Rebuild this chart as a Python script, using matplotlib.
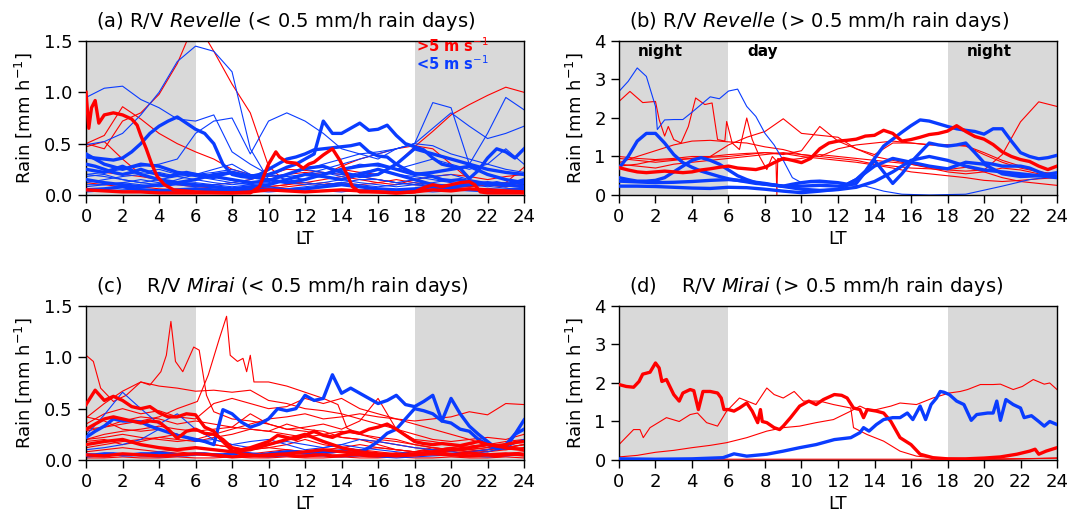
import matplotlib
matplotlib.use("Agg")
import matplotlib.pyplot as plt

# ---------------- common x grids (local time, hours) ----------------
HOURS = list(range(25))
HALF = [i * 0.5 for i in range(49)]

RED = "#ff0000"
BLUE = "#0a3cff"
SHADE = "#d9d9d9"

# ============ (a) R/V Revelle, < 0.5 mm/h rain days ============
a_red_thick1_x = [0, 0.15, 0.3, 0.5, 0.7, 1.0, 1.5, 2.0, 2.5, 2.8, 3.0, 3.3, 3.6, 3.9, 4.3, 4.8, 6, 8, 9, 9.5,
                  10, 10.4, 10.6, 11, 11.5, 11.9, 12.2, 12.5, 13, 13.5, 13.9, 14.3, 14.6, 15, 16, 17, 18, 18.5, 19, 19.5,
                  20, 20.5, 21, 21.3, 21.6, 22, 23, 24]
a_red_thick1_y = [1.0, 0.65, 0.85, 0.92, 0.7, 0.78, 0.8, 0.78, 0.74, 0.68, 0.58, 0.45, 0.3, 0.18, 0.1, 0.05, 0.03, 0.02, 0.02, 0.08,
                  0.3, 0.42, 0.37, 0.32, 0.31, 0.26, 0.3, 0.32, 0.39, 0.45, 0.34, 0.2, 0.08, 0.03, 0.03, 0.02, 0.03, 0.07, 0.1, 0.08,
                  0.1, 0.12, 0.13, 0.1, 0.03, 0.02, 0.02, 0.02]
a_red_thick2 = [0.05, 0.04, 0.03, 0.03, 0.02, 0.02, 0.02, 0.02, 0.02, 0.03, 0.05, 0.04, 0.03, 0.04, 0.05, 0.04, 0.03, 0.02,
                0.03, 0.05, 0.04, 0.06, 0.05, 0.04, 0.03]
a_red1 = [0.5, 0.45, 0.72, 0.8, 0.98, 1.28, 1.7, 1.4, 1.08, 0.8, 0.28, 0.12, 0.12, 0.1, 0.12, 0.1, 0.12, 0.15, 0.12, 0.1,
          0.1, 0.08, 0.1, 0.12, 0.1]
a_red2 = [0.5, 0.58, 0.86, 0.74, 0.6, 0.5, 0.42, 0.35, 0.25, 0.2, 0.18, 0.2, 0.22, 0.2, 0.25, 0.22, 0.2, 0.3, 0.47, 0.62,
          0.78, 0.88, 0.97, 1.05, 1.0]
a_red3 = [0.47, 0.52, 0.35, 0.2, 0.15, 0.1, 0.08, 0.07, 0.06, 0.05, 0.06, 0.08, 0.1, 0.12, 0.1, 0.08, 0.06, 0.05, 0.05, 0.06,
          0.07, 0.08, 0.1, 0.12, 0.27]
a_red4 = [0.25, 0.22, 0.2, 0.18, 0.15, 0.12, 0.1, 0.1, 0.12, 0.15, 0.2, 0.25, 0.24, 0.22, 0.2, 0.18, 0.15, 0.12, 0.1, 0.08,
          0.1, 0.12, 0.1, 0.08, 0.1]
a_red5 = [0.12, 0.1, 0.08, 0.08, 0.06, 0.05, 0.05, 0.04, 0.05, 0.06, 0.08, 0.1, 0.12, 0.15, 0.18, 0.15, 0.12, 0.1, 0.15, 0.18,
          0.2, 0.18, 0.15, 0.18, 0.2]
a_red6 = [0.05, 0.05, 0.04, 0.04, 0.03, 0.03, 0.03, 0.04, 0.05, 0.06, 0.08, 0.1, 0.15, 0.2, 0.28, 0.35, 0.4, 0.45, 0.48, 0.45,
          0.3, 0.15, 0.1, 0.08, 0.1]

a_blue_thick1 = [0.37, 0.36, 0.35, 0.34, 0.36, 0.42, 0.5, 0.6, 0.67, 0.72,
                 0.76, 0.7, 0.64, 0.6, 0.5, 0.3, 0.2, 0.18, 0.17, 0.18,
                 0.2, 0.23, 0.27, 0.3, 0.35, 0.4, 0.72, 0.6, 0.6, 0.65,
                 0.7, 0.63, 0.64, 0.68, 0.58, 0.5, 0.47, 0.44, 0.36, 0.3,
                 0.28, 0.26, 0.16, 0.24, 0.36, 0.45, 0.42, 0.36, 0.45]
a_blue_thick2 = [0.3, 0.28, 0.25, 0.22, 0.2, 0.22, 0.25, 0.22, 0.2, 0.18,
                 0.2, 0.22, 0.2, 0.18, 0.17, 0.2, 0.22, 0.2, 0.18, 0.2,
                 0.25, 0.3, 0.35, 0.37, 0.4, 0.44, 0.45, 0.46, 0.47, 0.48,
                 0.5, 0.42, 0.38, 0.37, 0.3, 0.25, 0.21, 0.2, 0.18, 0.15,
                 0.14, 0.15, 0.13, 0.12, 0.1, 0.12, 0.1, 0.12, 0.15]
a_blue_thick3 = [0.25, 0.22, 0.28, 0.2, 0.15, 0.12, 0.15, 0.2, 0.22, 0.18, 0.15, 0.12, 0.15, 0.2, 0.25, 0.28, 0.3, 0.25,
                 0.2, 0.22, 0.25, 0.28, 0.2, 0.15, 0.12]
a_blue_thick4 = [0.15, 0.12, 0.1, 0.08, 0.1, 0.12, 0.1, 0.08, 0.06, 0.08, 0.1, 0.15, 0.2, 0.18, 0.15, 0.2, 0.25, 0.2,
                 0.15, 0.1, 0.08, 0.1, 0.12, 0.1, 0.08]
a_blue_thick5 = [0.05, 0.06, 0.08, 0.05, 0.04, 0.05, 0.06, 0.05, 0.04, 0.05, 0.06, 0.05, 0.06, 0.08, 0.1, 0.08, 0.06, 0.05,
                 0.06, 0.08, 0.06, 0.05, 0.04, 0.05, 0.06]
a_blue_thick6 = [0.4, 0.3, 0.25, 0.3, 0.28, 0.22, 0.2, 0.18, 0.15, 0.12, 0.14, 0.2, 0.26, 0.28, 0.22, 0.18, 0.2, 0.3,
                 0.45, 0.4, 0.35, 0.3, 0.25, 0.22, 0.2]
a_blue1 = [0.95, 1.04, 1.06, 0.93, 0.85, 0.74, 0.72, 0.78, 0.42, 0.3, 0.2, 0.15, 0.12, 0.1, 0.12, 0.15, 0.15, 0.12, 0.1,
           0.08, 0.1, 0.12, 0.1, 0.08, 0.1]
a_blue2 = [0.49, 0.52, 0.6, 0.78, 1.0, 1.3, 1.45, 1.4, 1.2, 0.45, 0.15, 0.12, 0.1, 0.12, 0.15, 0.12, 0.1, 0.08, 0.1, 0.12,
           0.15, 0.12, 0.1, 0.12, 0.1]
a_blue3 = [0.2, 0.22, 0.25, 0.28, 0.3, 0.35, 0.6, 0.72, 0.75, 0.4, 0.72, 0.8, 0.72, 0.6, 0.45, 0.4, 0.35, 0.45, 0.5, 0.48,
           0.4, 0.35, 0.3, 0.25, 0.22]
a_blue4 = [0.1, 0.1, 0.12, 0.1, 0.08, 0.1, 0.12, 0.1, 0.08, 0.1, 0.12, 0.15, 0.2, 0.25, 0.3, 0.35, 0.4, 0.45, 0.5, 0.9,
           0.85, 0.3, 0.6, 0.95, 0.83]
a_blue5 = [0.2, 0.18, 0.15, 0.12, 0.15, 0.18, 0.2, 0.22, 0.25, 0.2, 0.18, 0.2, 0.25, 0.3, 0.35, 0.4, 0.42, 0.45, 0.5, 0.65,
           0.8, 0.67, 0.55, 0.6, 0.67]
a_blue6 = [0.3, 0.25, 0.2, 0.22, 0.25, 0.2, 0.18, 0.15, 0.12, 0.15, 0.2, 0.18, 0.15, 0.2, 0.25, 0.3, 0.28, 0.25, 0.3, 0.35,
           0.3, 0.25, 0.3, 0.45, 0.3]
a_blue7 = [0.12, 0.15, 0.18, 0.2, 0.22, 0.18, 0.15, 0.12, 0.1, 0.12, 0.15, 0.18, 0.2, 0.22, 0.2, 0.18, 0.15, 0.12, 0.15,
           0.18, 0.2, 0.15, 0.12, 0.1, 0.12]
a_blue8 = [0.08, 0.1, 0.12, 0.15, 0.12, 0.1, 0.08, 0.1, 0.12, 0.1, 0.08, 0.06, 0.08, 0.1, 0.12, 0.1, 0.08, 0.1, 0.12, 0.08,
           0.06, 0.05, 0.06, 0.08, 0.1]
a_blue9 = [0.03, 0.04, 0.05, 0.06, 0.05, 0.04, 0.03, 0.04, 0.05, 0.04, 0.03, 0.04, 0.05, 0.04, 0.03, 0.05, 0.06, 0.05, 0.04,
           0.03, 0.04, 0.05, 0.04, 0.03, 0.04]
a_blue10 = [0.18, 0.2, 0.15, 0.12, 0.1, 0.15, 0.2, 0.25, 0.3, 0.2, 0.15, 0.2, 0.25, 0.22, 0.18, 0.22, 0.25, 0.2, 0.18,
            0.15, 0.12, 0.1, 0.08, 0.1, 0.12]

# ============ (b) R/V Revelle, > 0.5 mm/h rain days ============
b_red_thick = [0.71, 0.65, 0.6, 0.58, 0.6, 0.62, 0.6, 0.58, 0.6, 0.65,
               0.68, 0.72, 0.75, 0.7, 0.68, 0.66, 0.72, 0.84, 0.95, 0.9,
               0.84, 0.95, 1.2, 1.35, 1.4, 1.42, 1.45, 1.53, 1.55, 1.68,
               1.6, 1.4, 1.44, 1.5, 1.57, 1.6, 1.66, 1.8, 1.65, 1.52,
               1.45, 1.31, 1.12, 1.0, 0.92, 0.87, 0.75, 0.66, 0.75]
b_blue_thick1 = [0.7, 1.0, 1.4, 1.6, 1.6, 1.35, 1.05, 0.84, 0.72, 0.62,
                 0.55, 0.48, 0.42, 0.38, 0.34, 0.3, 0.28, 0.26, 0.23, 0.28,
                 0.32, 0.35, 0.36, 0.34, 0.32, 0.28, 0.4, 0.62, 0.95, 1.27,
                 1.45, 1.63, 1.8, 1.95, 1.92, 1.85, 1.78, 1.72, 1.68, 1.65,
                 1.58, 1.72, 1.72, 1.4, 1.1, 1.0, 0.94, 0.97, 1.03]
b_blue_thick2 = [0.45, 0.4, 0.36, 0.36, 0.38, 0.45, 0.6, 0.75, 0.9, 0.97,
                 0.9, 0.8, 0.65, 0.5, 0.4, 0.32, 0.28, 0.25, 0.23, 0.22,
                 0.23, 0.24, 0.25, 0.24, 0.23, 0.25, 0.3, 0.6, 0.9, 0.6,
                 0.3, 0.55, 0.85, 1.1, 1.35, 1.3, 1.27, 1.3, 1.35, 1.1,
                 0.84, 0.8, 0.75, 0.75, 0.75, 0.7, 0.6, 0.52, 0.49]
b_blue_thick3 = [0.23, 0.23, 0.22, 0.2, 0.18, 0.17, 0.2, 0.19, 0.15, 0.1, 0.06, 0.1, 0.15, 0.4, 0.75, 0.95, 0.85, 0.75,
                 0.68, 0.85, 0.8, 0.55, 0.48, 0.5, 0.58]
b_blue_thick4 = [0.36, 0.34, 0.32, 0.33, 0.35, 0.38, 0.4, 0.36, 0.3, 0.22, 0.15, 0.12, 0.14, 0.2, 0.35, 0.6, 0.9, 1.0,
                 0.9, 0.75, 0.65, 0.6, 0.55, 0.5, 0.45]
b_blue1_x = [0, 0.5, 1, 1.5, 2, 2.1, 2.5, 3, 3.5, 4, 4.5, 5, 5.5, 6, 6.5, 7, 7.5, 8, 8.5, 9, 9.5, 10, 11, 12, 13, 13.5,
             14.5, 15.5, 17, 19, 21, 22.5, 24]
b_blue1_y = [2.69, 2.95, 3.3, 3.08, 2.3, 1.7, 1.95, 1.96, 1.96, 2.15, 2.35, 2.55, 2.5, 2.7, 2.75, 2.3, 2.04, 1.6, 1.3,
             0.9, 0.45, 0.32, 0.32, 0.3, 0.25, 0.23, 0.1, 0.02, 0.0, 0.02, 0.23, 0.4, 0.49]
b_red1_x = [0, 0.6, 1.3, 2.0, 2.2, 2.5, 2.7, 3.0, 3.4, 3.8, 4.2, 4.7, 5.1, 5.4, 5.8, 5.9, 6.2, 6.6, 7.0, 7.3,
            7.7, 8.1, 8.4, 8.6, 8.65, 8.7, 9.0, 10, 11, 12, 13, 14, 15, 16, 17, 18, 19, 20, 21, 22, 23, 24]
b_red1_y = [2.43, 2.69, 2.4, 2.43, 1.96, 1.53, 1.78, 1.44, 1.35, 1.78, 2.52, 2.35, 2.39, 1.44, 1.4, 1.91, 1.35, 1.18,
            2.0, 1.44, 1.0, 0.66, 1.0, 0.9, 0.0, 0.95, 0.9, 0.95, 1.05, 1.0, 0.95, 0.9, 0.85, 0.8, 0.7, 0.6, 0.55,
            0.6, 0.7, 0.65, 0.55, 0.5]
b_red2 = [1.0, 0.95, 0.92, 0.95, 1.0, 1.0, 1.3, 1.5, 1.65, 1.98, 1.6, 1.55, 1.5, 1.2, 1.0, 0.9, 0.8, 0.72, 0.66, 0.72,
          0.6, 0.45, 0.35, 0.3, 0.25]
b_red3 = [0.8, 0.75, 0.7, 0.8, 0.85, 0.9, 0.95, 1.0, 1.05, 1.1, 1.05, 1.0, 0.95, 0.9, 0.8, 0.75, 0.7, 0.68, 0.65, 0.62,
          0.65, 1.05, 1.9, 2.42, 2.3]
b_red4 = [0.84, 1.0, 1.15, 1.3, 1.4, 1.42, 1.38, 1.35, 1.25, 1.18, 1.05, 1.0, 1.2, 1.3, 1.35, 1.4, 1.35, 1.3, 1.3, 1.28,
          1.1, 0.9, 0.75, 0.6, 0.5]
b_red5 = [0.75, 0.8, 0.9, 0.92, 0.95, 0.98, 1.0, 1.05, 1.1, 1.08, 1.0, 0.95, 0.9, 0.85, 0.78, 0.7, 0.6, 0.55, 0.5, 0.45,
          0.38, 0.35, 0.38, 0.42, 0.45]
b_red6 = [0.95, 0.9, 0.85, 0.9, 0.95, 1.0, 1.05, 1.08, 1.1, 1.05, 1.15, 1.78, 1.4, 1.2, 1.05, 1.35, 1.35, 1.31, 1.3,
          1.27, 1.05, 0.85, 0.7, 0.6, 0.55]

# ============ (c) R/V Mirai, < 0.5 mm/h rain days ============
c_blue_thick1 = [0.22, 0.28, 0.33, 0.4, 0.38, 0.38, 0.37, 0.33, 0.3, 0.27,
                 0.24, 0.22, 0.2, 0.18, 0.15, 0.49, 0.45, 0.37, 0.32, 0.35,
                 0.4, 0.5, 0.48, 0.5, 0.63, 0.58, 0.6, 0.83, 0.65, 0.7,
                 0.65, 0.6, 0.55, 0.58, 0.63, 0.54, 0.52, 0.57, 0.63, 0.38,
                 0.6, 0.45, 0.33, 0.25, 0.18, 0.11, 0.12, 0.25, 0.39]
c_blue_thick2 = [0.05, 0.05, 0.06, 0.06, 0.05, 0.05, 0.06, 0.06, 0.07, 0.06,
                 0.05, 0.05, 0.06, 0.06, 0.05, 0.05, 0.06, 0.07, 0.06, 0.05,
                 0.06, 0.07, 0.08, 0.08, 0.07, 0.07, 0.08, 0.08, 0.09, 0.1,
                 0.08, 0.12, 0.18, 0.26, 0.3, 0.4, 0.5, 0.48, 0.45, 0.38,
                 0.36, 0.3, 0.28, 0.2, 0.15, 0.12, 0.15, 0.25, 0.3]
c_blue1 = [0.24, 0.44, 0.66, 0.5, 0.35, 0.45, 0.3, 0.2, 0.15, 0.12, 0.15, 0.18, 0.15, 0.12, 0.15, 0.12, 0.1, 0.08, 0.06,
           0.05, 0.06, 0.08, 0.1, 0.15, 0.2]
c_blue2 = [0.1, 0.12, 0.15, 0.2, 0.3, 0.25, 0.18, 0.2, 0.15, 0.18, 0.2, 0.15, 0.1, 0.12, 0.15, 0.2, 0.18, 0.15, 0.12, 0.1,
           0.08, 0.06, 0.08, 0.12, 0.2]
c_blue3 = [0.03, 0.04, 0.05, 0.04, 0.03, 0.04, 0.05, 0.06, 0.05, 0.04, 0.03, 0.04, 0.05, 0.04, 0.03, 0.04, 0.03, 0.02,
           0.03, 0.04, 0.05, 0.04, 0.03, 0.04, 0.05]
c_red_thick1 = [0.54, 0.68, 0.58, 0.62, 0.58, 0.52, 0.5, 0.52, 0.46, 0.42,
                0.42, 0.45, 0.44, 0.32, 0.28, 0.18, 0.09, 0.06, 0.05, 0.04,
                0.04, 0.05, 0.05, 0.04, 0.04, 0.05, 0.05, 0.04, 0.04, 0.05,
                0.05, 0.04, 0.04, 0.05, 0.06, 0.05, 0.05, 0.06, 0.07, 0.06,
                0.05, 0.06, 0.07, 0.06, 0.05, 0.04, 0.05, 0.06, 0.05]
c_red_thick2 = [0.3, 0.35, 0.4, 0.42, 0.4, 0.38, 0.36, 0.38, 0.37, 0.3,
                0.21, 0.28, 0.3, 0.26, 0.25, 0.2, 0.12, 0.1, 0.12, 0.15,
                0.18, 0.24, 0.22, 0.2, 0.24, 0.28, 0.24, 0.22, 0.26, 0.28,
                0.26, 0.3, 0.32, 0.35, 0.3, 0.24, 0.18, 0.16, 0.15, 0.16,
                0.15, 0.14, 0.16, 0.18, 0.15, 0.14, 0.15, 0.17, 0.18]
c_red_thick3 = [0.15, 0.18, 0.2, 0.15, 0.12, 0.1, 0.12, 0.1, 0.08, 0.1, 0.15, 0.2, 0.25, 0.18, 0.12, 0.08, 0.06, 0.05,
                0.06, 0.08, 0.1, 0.12, 0.15, 0.12, 0.1]
c_red_thick4 = [0.05, 0.04, 0.06, 0.05, 0.04, 0.05, 0.06, 0.05, 0.03, 0.04, 0.05, 0.06, 0.08, 0.1, 0.08, 0.06, 0.05, 0.04,
                0.05, 0.06, 0.05, 0.04, 0.05, 0.06, 0.05]
c_red1_x = [0, 0.4, 0.8, 1.5, 2.2, 3.0, 3.5, 4.1, 4.4, 4.65, 4.9, 5.3, 5.9, 6.2, 6.6, 7.0, 8, 9, 10, 11,
            12, 13, 14, 15, 16, 17, 18, 19, 20, 21, 22, 23, 24]
c_red1_y = [1.02, 0.96, 0.7, 0.57, 0.63, 0.76, 0.73, 0.86, 1.02, 1.35, 0.96, 0.86, 1.1, 1.07, 0.63, 0.47, 0.4, 0.38,
            0.35, 0.3, 0.28, 0.25, 0.22, 0.2, 0.18, 0.15, 0.12, 0.1, 0.12, 0.1, 0.08, 0.1, 0.12]
c_red2_x = [0, 1, 2, 3, 4, 5, 6.1, 6.7, 7.3, 7.7, 7.9, 8.3, 8.6, 8.8, 9.0, 9.2, 10, 11, 12, 13,
            13.8, 14.3, 15, 16, 17, 18, 19, 20, 21, 22, 23, 24]
c_red2_y = [0.3, 0.32, 0.35, 0.38, 0.42, 0.5, 0.57, 0.83, 1.18, 1.4, 1.02, 0.96, 0.99, 0.86, 1.02, 0.76, 0.76, 0.72,
            0.66, 0.6, 0.54, 0.31, 0.25, 0.2, 0.18, 0.15, 0.12, 0.1, 0.08, 0.1, 0.12, 0.15]
c_red3 = [0.41, 0.55, 0.67, 0.76, 0.72, 0.7, 0.67, 0.68, 0.66, 0.68, 0.58, 0.55, 0.5, 0.48, 0.45, 0.4, 0.35, 0.3, 0.25,
          0.2, 0.18, 0.2, 0.22, 0.2, 0.25]
c_red4 = [0.2, 0.22, 0.25, 0.22, 0.2, 0.18, 0.2, 0.25, 0.3, 0.35, 0.4, 0.42, 0.45, 0.4, 0.42, 0.45, 0.42, 0.4, 0.38, 0.4,
          0.42, 0.47, 0.44, 0.55, 0.54]
c_red5 = [0.35, 0.45, 0.5, 0.45, 0.48, 0.42, 0.4, 0.55, 0.6, 0.55, 0.5, 0.52, 0.6, 0.55, 0.6, 0.5, 0.45, 0.4, 0.35, 0.3,
          0.25, 0.2, 0.15, 0.12, 0.15]
c_red6 = [0.28, 0.32, 0.38, 0.42, 0.4, 0.35, 0.38, 0.35, 0.32, 0.45, 0.35, 0.3, 0.32, 0.35, 0.3, 0.38, 0.6, 0.3, 0.2,
          0.18, 0.15, 0.12, 0.1, 0.15, 0.2]
c_red7 = [0.2, 0.25, 0.28, 0.3, 0.33, 0.3, 0.28, 0.3, 0.32, 0.3, 0.28, 0.25, 0.22, 0.25, 0.28, 0.25, 0.22, 0.2, 0.15,
          0.12, 0.1, 0.12, 0.15, 0.18, 0.2]
c_red8 = [0.12, 0.15, 0.18, 0.2, 0.22, 0.25, 0.2, 0.15, 0.12, 0.1, 0.12, 0.15, 0.2, 0.15, 0.12, 0.1, 0.08, 0.06, 0.08,
          0.1, 0.12, 0.15, 0.12, 0.1, 0.12]
c_red9 = [0.08, 0.1, 0.12, 0.1, 0.08, 0.1, 0.12, 0.1, 0.08, 0.06, 0.08, 0.1, 0.08, 0.06, 0.08, 0.1, 0.12, 0.1, 0.08,
          0.06, 0.08, 0.1, 0.12, 0.14, 0.1]
c_red10 = [0.05, 0.06, 0.05, 0.04, 0.06, 0.08, 0.06, 0.04, 0.03, 0.04, 0.05, 0.04, 0.03, 0.04, 0.05, 0.04, 0.03, 0.04,
           0.05, 0.06, 0.05, 0.04, 0.05, 0.06, 0.08]
c_red11 = [0.02, 0.02, 0.03, 0.02, 0.02, 0.03, 0.02, 0.02, 0.03, 0.02, 0.02, 0.03, 0.02, 0.02, 0.03, 0.02, 0.02, 0.03,
           0.02, 0.02, 0.03, 0.02, 0.02, 0.03, 0.02]
c_red12 = [0.18, 0.2, 0.15, 0.18, 0.22, 0.2, 0.18, 0.22, 0.25, 0.3, 0.28, 0.35, 0.3, 0.28, 0.22, 0.2, 0.15, 0.1, 0.08,
           0.12, 0.1, 0.08, 0.1, 0.12, 0.1]
c_red13 = [0.42, 0.38, 0.3, 0.28, 0.3, 0.25, 0.2, 0.15, 0.12, 0.1, 0.12, 0.1, 0.08, 0.1, 0.12, 0.15, 0.12, 0.1, 0.08,
           0.1, 0.12, 0.1, 0.08, 0.12, 0.15]

# ============ (d) R/V Mirai, > 0.5 mm/h rain days ============
d_red_thick_x = [0, 0.4, 0.8, 1.1, 1.3, 1.7, 2.0, 2.2, 2.35, 2.6, 3.0, 3.3, 3.5, 3.9, 4.1, 4.35, 4.6, 5.0, 5.4, 5.6,
                 5.75, 6.0, 6.3, 6.6, 7.0, 7.3, 7.6, 7.75, 7.85, 8.1, 8.5, 8.8, 9.0, 9.4, 9.9, 10.4, 10.8, 11.2, 11.8,
                 12.2, 12.5, 12.85, 13.2, 13.4, 13.6, 14.1, 14.5, 14.9, 15.4, 16.0, 16.5, 17.2, 18, 19, 20, 20.9, 21.8,
                 22.5, 22.8, 23.0, 23.4, 24]
d_red_thick_y = [1.96, 1.91, 1.89, 2.04, 2.23, 2.28, 2.52, 2.39, 2.04, 2.09, 1.7, 1.53, 1.74, 1.83, 1.8, 1.31, 1.78,
                 1.78, 1.74, 1.61, 1.31, 1.31, 1.27, 1.35, 1.48, 1.27, 0.97, 1.31, 1.0, 0.97, 0.84, 0.79, 0.88, 1.1,
                 1.4, 1.53, 1.44, 1.57, 1.7, 1.68, 1.61, 1.35, 1.31, 1.1, 1.31, 1.27, 1.22, 1.0, 0.58, 0.4, 0.15,
                 0.06, 0.03, 0.03, 0.05, 0.08, 0.15, 0.23, 0.28, 0.15, 0.23, 0.32]
d_blue_thick_x = [0, 2, 4, 5.7, 6.3, 7.0, 8.1, 9.0, 9.9, 10.8, 11.8, 12.7, 13.2, 13.4, 13.7, 14.1, 14.5, 15.0, 15.4,
                  15.8, 16.1, 16.5, 16.8, 17.1, 17.4, 17.6, 17.8, 18.1, 18.5, 18.9, 19.3, 19.6, 20.2, 20.5, 20.7,
                  20.9, 21.2, 21.6, 22.0, 22.2, 22.6, 23.0, 23.3, 23.6, 24]
d_blue_thick_y = [0.03, 0.02, 0.03, 0.06, 0.16, 0.1, 0.15, 0.23, 0.32, 0.4, 0.53, 0.58, 0.71, 0.84, 0.75, 0.92, 1.05,
                  1.1, 1.1, 1.22, 1.05, 1.4, 1.05, 1.44, 1.61, 1.78, 1.76, 1.7, 1.53, 1.44, 1.03, 1.18, 1.22, 1.22,
                  1.53, 1.03, 1.57, 1.44, 1.35, 1.1, 1.15, 1.0, 0.88, 1.0, 0.92]
d_red1_x = [0, 0.8, 1.15, 1.33, 1.7, 2.6, 3.3, 3.9, 4.3, 4.8, 5.4, 5.9, 6.6, 7.5, 8.1, 8.5, 9.0, 9.6, 10.1, 11.0,
            11.75, 12.7, 12.85, 13.6, 14.5, 15.4, 16.3, 17.2, 19, 21, 23, 24]
d_red1_y = [0.4, 0.79, 0.79, 0.58, 0.84, 1.1, 1.0, 1.18, 1.22, 0.97, 0.88, 1.27, 1.61, 1.44, 1.87, 1.7, 1.61, 1.78,
            1.53, 1.53, 1.44, 1.35, 0.84, 0.66, 0.49, 0.23, 0.1, 0.06, 0.03, 0.03, 0.04, 0.05]
d_red2_x = [0, 1, 2, 3, 4, 5, 5.9, 7, 8.1, 9, 9.9, 10.8, 11.75, 12.7, 13.2, 13.6, 14.1, 14.9, 15.4, 16.3,
            17.2, 18.1, 18.7, 19.1, 19.8, 20.5, 20.9, 21.6, 22.1, 22.7, 23.3, 23.6, 24]
d_red2_y = [0.08, 0.12, 0.2, 0.25, 0.32, 0.38, 0.45, 0.58, 0.75, 0.84, 0.88, 0.97, 1.05, 1.27, 1.4, 1.31, 1.31, 1.4,
            1.48, 1.44, 1.61, 1.74, 1.78, 1.83, 1.96, 1.96, 1.97, 1.83, 1.91, 2.09, 1.97, 2.0, 1.83]
d_red3 = [0.02, 0.02, 0.02, 0.02, 0.02, 0.02, 0.02, 0.02, 0.02, 0.02, 0.02, 0.02, 0.02, 0.02, 0.02, 0.02, 0.02, 0.02,
          0.02, 0.02, 0.02, 0.02, 0.03, 0.04, 0.05]

# ---------------- tick labels / titles ----------------
XTICKS = list(range(0, 25, 2))
YTICKS_LOW = [0.0, 0.5, 1.0, 1.5]
YTICKS_HIGH = [0, 1, 2, 3, 4]
TITLES = [r"(a) R/V $\it{Revelle}$ (< 0.5 mm/h rain days)",
          r"(b) R/V $\it{Revelle}$ (> 0.5 mm/h rain days)",
          r"(c)    R/V $\it{Mirai}$ (< 0.5 mm/h rain days)",
          r"(d)    R/V $\it{Mirai}$ (> 0.5 mm/h rain days)"]

plt.rcParams["font.family"] = ["DejaVu Sans"]
fig = plt.figure(figsize=(10.85, 5.19), dpi=100)
W, H = 0.4037, 0.2967
axa = fig.add_axes([0.0793, 0.6243, W, H])
axb = fig.add_axes([0.5705, 0.6243, W, H])
axc = fig.add_axes([0.0793, 0.1137, W, H])
axd = fig.add_axes([0.5705, 0.1137, W, H])

THIN, THICK = 0.8, 2.4


def thin(ax, x, y, c):
    ax.plot(x, y, color=c, lw=THIN, zorder=2, solid_joinstyle="round")


def thick(ax, x, y, c, z=4):
    ax.plot(x, y, color=c, lw=THICK, zorder=z, solid_joinstyle="round")


# (a)
for y in [a_red1, a_red2, a_red3, a_red4, a_red5, a_red6]:
    thin(axa, HOURS, y, RED)
for y in [a_blue1, a_blue2, a_blue3, a_blue4, a_blue5, a_blue6, a_blue7, a_blue8, a_blue9, a_blue10]:
    thin(axa, HOURS, y, BLUE)
for y in [a_blue_thick3, a_blue_thick4, a_blue_thick5, a_blue_thick6]:
    thick(axa, HOURS, y, BLUE)
thick(axa, HALF, a_blue_thick1, BLUE)
thick(axa, HALF, a_blue_thick2, BLUE)
thick(axa, HOURS, a_red_thick2, RED, 5)
thick(axa, a_red_thick1_x, a_red_thick1_y, RED, 5)

# (b)
thin(axb, b_red1_x, b_red1_y, RED)
for y in [b_red2, b_red3, b_red4, b_red5, b_red6]:
    thin(axb, HOURS, y, RED)
thin(axb, b_blue1_x, b_blue1_y, BLUE)
thick(axb, HOURS, b_blue_thick3, BLUE)
thick(axb, HOURS, b_blue_thick4, BLUE)
thick(axb, HALF, b_blue_thick2, BLUE)
thick(axb, HALF, b_blue_thick1, BLUE)
thick(axb, HALF, b_red_thick, RED, 5)

# (c)
for y in [c_red3, c_red4, c_red5, c_red6, c_red7, c_red8, c_red9, c_red10, c_red11, c_red12, c_red13]:
    thin(axc, HOURS, y, RED)
thin(axc, c_red1_x, c_red1_y, RED)
thin(axc, c_red2_x, c_red2_y, RED)
for y in [c_blue1, c_blue2, c_blue3]:
    thin(axc, HOURS, y, BLUE)
thick(axc, HALF, c_blue_thick2, BLUE)
thick(axc, HALF, c_blue_thick1, BLUE)
thick(axc, HOURS, c_red_thick3, RED, 5)
thick(axc, HOURS, c_red_thick4, RED, 5)
thick(axc, HALF, c_red_thick2, RED, 5)
thick(axc, HALF, c_red_thick1, RED, 5)

# (d)
thin(axd, HOURS, d_red3, RED)
thin(axd, d_red1_x, d_red1_y, RED)
thin(axd, d_red2_x, d_red2_y, RED)
thick(axd, d_red_thick_x, d_red_thick_y, RED)
thick(axd, d_blue_thick_x, d_blue_thick_y, BLUE, 5)

for i, ax in enumerate([axa, axb, axc, axd]):
    ax.axvspan(0, 6, color=SHADE, lw=0, zorder=0)
    ax.axvspan(18, 24, color=SHADE, lw=0, zorder=0)
    ax.set_xlim(0, 24)
    ax.set_xticks(XTICKS)
    if i in (0, 2):
        ax.set_ylim(0, 1.5)
        ax.set_yticks(YTICKS_LOW)
        ax.set_yticklabels([f"{v:.1f}" for v in YTICKS_LOW])
    else:
        ax.set_ylim(0, 4)
        ax.set_yticks(YTICKS_HIGH)
    ax.tick_params(direction="out", length=5.5, width=1, labelsize=13, pad=4)
    ax.set_xlabel("LT", fontsize=13, labelpad=3)
    ax.set_ylabel(r"Rain [mm h$^{-1}$]", fontsize=13, labelpad=7)
    for s in ax.spines.values():
        s.set_linewidth(1.0)
    ax.text(0.022, 1.055, TITLES[i], transform=ax.transAxes, ha="left", va="bottom", fontsize=14)

axa.text(18.1, 1.45, r">5 m s$^{-1}$", color=RED, fontsize=10.5, fontweight="bold", ha="left", va="center")
axa.text(18.1, 1.275, r"<5 m s$^{-1}$", color=BLUE, fontsize=10.5, fontweight="bold", ha="left", va="center")
axb.text(2.25, 3.74, "night", fontsize=11, fontweight="bold", ha="center", va="center")
axb.text(7.85, 3.74, "day", fontsize=11, fontweight="bold", ha="center", va="center")
axb.text(20.3, 3.74, "night", fontsize=11, fontweight="bold", ha="center", va="center")

fig.savefig("out.png", dpi=100)
